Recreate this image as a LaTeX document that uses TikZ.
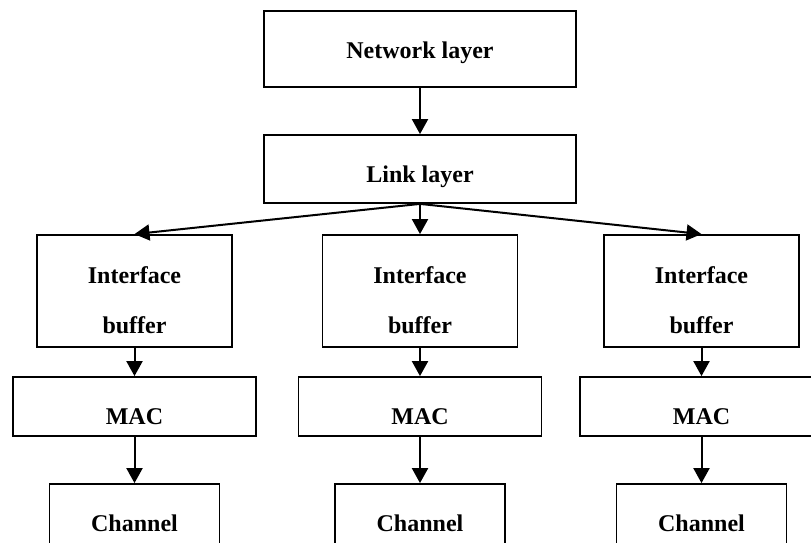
\documentclass[tikz,border=0pt]{standalone}
\usepackage{fontspec}
\setmainfont{Liberation Serif}
\usetikzlibrary{arrows.meta}
\begin{document}
\begin{tikzpicture}[x=1pt,y=-1pt,
  box/.style={draw, line width=1.8pt, inner sep=0pt},
  lbl/.style={anchor=base, inner sep=0pt, font=\bfseries\fontsize{24}{28}\selectfont},
  flow/.style={line width=2pt, -{Triangle[width=16pt,length=15pt]}}]
\useasboundingbox (0,0) rectangle (811,543);
\clip (0,0) rectangle (811,543);

% upper layers
\node[box, minimum width=312pt, minimum height=76pt] (net) at (420,49) {};
\node[lbl] (netT) at (420,59) {Network layer};
\node[box, minimum width=312pt, minimum height=68pt] (link) at (420,169) {};
\node[lbl] (linkT) at (420,182) {Link layer};

% three interface / MAC / channel columns
\foreach \i/\x in {L/134.5, M/420, R/701.5} {
  \node[box, minimum width=195pt, minimum height=112pt] (if\i) at (\x,291) {};
  \node[lbl] (ifT\i) at (\x,283) {Interface};
  \node[lbl] (ifB\i) at (\x,333) {buffer};
  \node[box, minimum width=243pt, minimum height=59pt] (mac\i) at (\x,406.5) {};
  \node[lbl] (macT\i) at (\x,424) {MAC};
  \node[box, minimum width=170pt, minimum height=100pt] (ch\i) at (\x,534) {};
  \node[lbl] (chT\i) at (\x,531) {Channel};
}

% connectors
\draw[flow] (net.south) -- (link.north);
\foreach \i in {L,M,R} {
  \draw[flow] (link.south) -- (if\i.north);
  \draw[flow] (if\i.south) -- (mac\i.north);
  \draw[flow] (mac\i.south) -- (ch\i.north);
}
\end{tikzpicture}
\end{document}
